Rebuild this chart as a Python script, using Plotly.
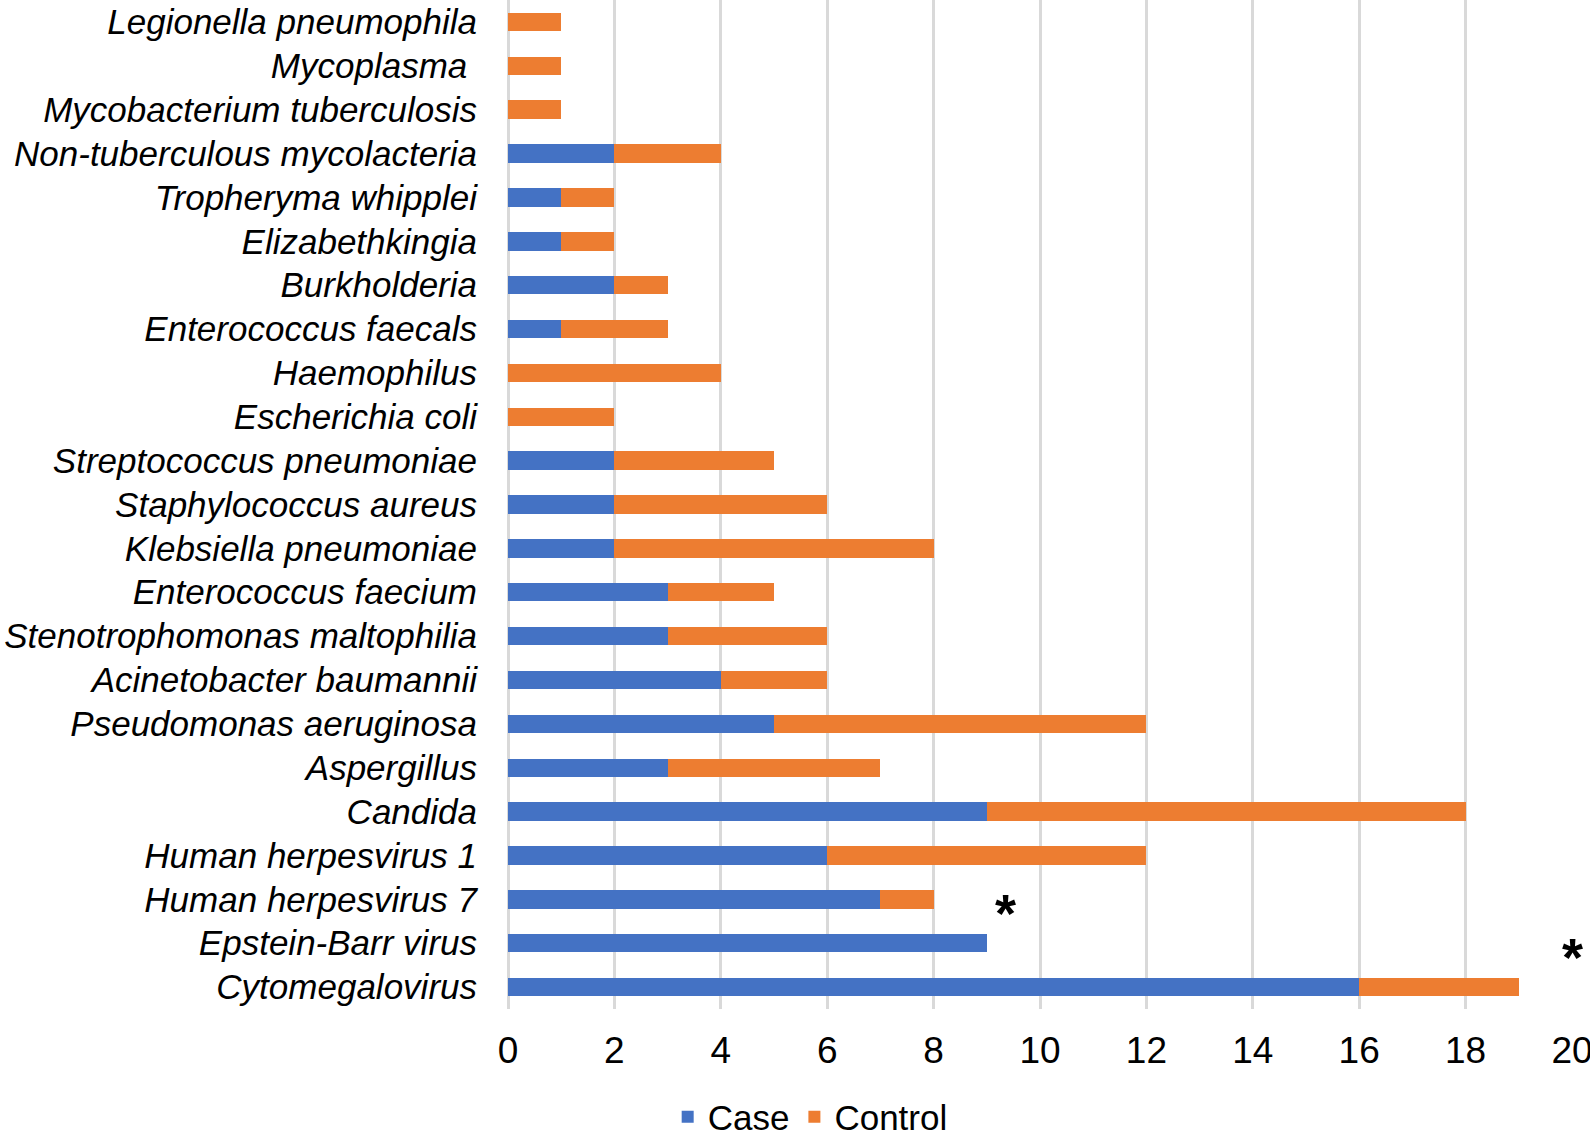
import plotly.graph_objects as go

categories = [
    "Legionella pneumophila", "Mycoplasma ", "Mycobacterium tuberculosis",
    "Non-tuberculous mycolacteria", "Tropheryma whipplei", "Elizabethkingia",
    "Burkholderia", "Enterococcus faecals", "Haemophilus", "Escherichia coli",
    "Streptococcus pneumoniae", "Staphylococcus aureus", "Klebsiella pneumoniae",
    "Enterococcus faecium", "Stenotrophomonas maltophilia", "Acinetobacter baumannii",
    "Pseudomonas aeruginosa", "Aspergillus", "Candida", "Human herpesvirus 1",
    "Human herpesvirus 7", "Epstein-Barr virus", "Cytomegalovirus",
]
case_values = [0, 0, 0, 2, 1, 1, 2, 1, 0, 0, 2, 2, 2, 3, 3, 4, 5, 3, 9, 6, 7, 9, 16]
control_values = [1, 1, 1, 2, 1, 1, 1, 2, 4, 2, 3, 4, 6, 2, 3, 2, 7, 4, 9, 6, 1, 0, 3]
x_ticks = [0, 2, 4, 6, 8, 10, 12, 14, 16, 18, 20]
significant = [("Human herpesvirus 7", 9.36), ("Epstein-Barr virus", 20)]

BLUE = "#4472C4"
ORANGE = "#ED7D31"
FONT = "Liberation Sans"

fig = go.Figure()
fig.add_trace(go.Bar(y=categories, x=case_values, orientation="h", name="Case",
                     marker=dict(color=BLUE, line=dict(width=0))))
fig.add_trace(go.Bar(y=categories, x=control_values, orientation="h", name="Control",
                     marker=dict(color=ORANGE, line=dict(width=0))))

for cat, xv in significant:
    fig.add_annotation(x=xv, y=cat, text="<b>*</b>", showarrow=False,
                       font=dict(family=FONT, size=54, color="black"),
                       xanchor="center", yanchor="middle", yshift=-14)

fig.update_layout(
    barmode="stack",
    bargap=0.58,
    width=1590, height=1139,
    margin=dict(l=508, r=18, t=0, b=130, autoexpand=False),
    plot_bgcolor="white", paper_bgcolor="white",
    font=dict(family=FONT, color="black"),
    showlegend=True,
    legend=dict(orientation="h", x=0.284, y=-0.107, xanchor="center", yanchor="middle",
                font=dict(family=FONT, size=35, color="black"),
                itemwidth=30, traceorder="normal"),
    xaxis=dict(range=[0, 20], tickvals=x_ticks, showgrid=True, gridcolor="#D9D9D9",
               gridwidth=2.5, zeroline=True, zerolinecolor="#D9D9D9", zerolinewidth=2.5,
               showline=False, ticks="", ticklabelstandoff=16, automargin=False,
               ticklabeloverflow="allow",
               tickfont=dict(family=FONT, size=37, color="black")),
    yaxis=dict(autorange="reversed", showgrid=False, zeroline=False, showline=False,
               ticks="", ticklabelstandoff=30, automargin=False,
               tickfont=dict(family=FONT, size=35, color="black", style="italic")),
)

fig.write_html("out.html", config={"displayModeBar": False},
               post_script="document.body.style.margin='0';document.body.style.overflow='hidden';")
